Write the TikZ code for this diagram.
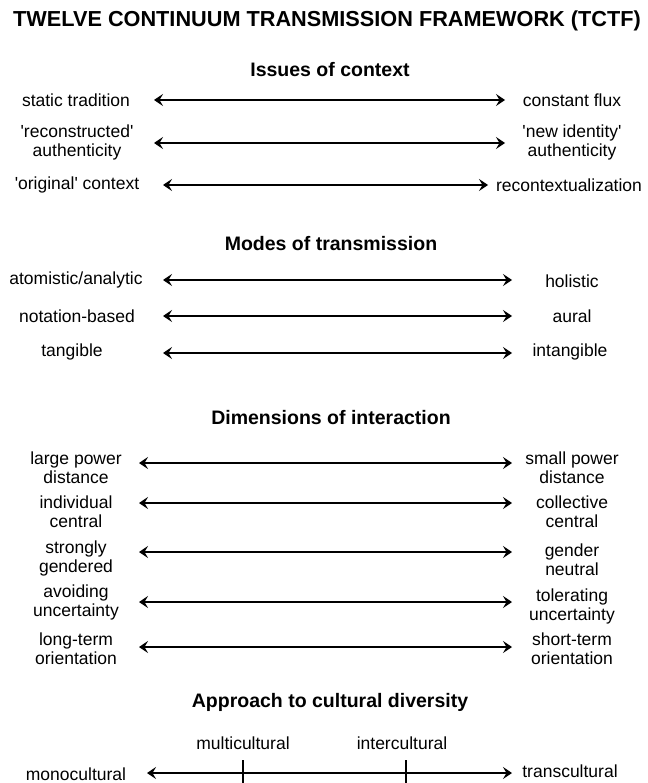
\documentclass[tikz,border=0pt]{standalone}
\usepackage{fontspec}
\setmainfont{Liberation Sans}[Ligatures=TeXOff]
\usetikzlibrary{arrows.meta}
\tikzset{
  body/.style={inner sep=0pt, align=center, font=\fontsize{17.5}{19}\selectfont},
  head/.style={inner sep=0pt, font=\fontsize{19.5}{22}\selectfont\bfseries},
  titlestyle/.style={inner sep=0pt, font=\fontsize{21.7}{24}\selectfont\bfseries},
  arr/.style={line width=1.5pt, {Stealth[length=9pt,width=12pt,inset=3.5pt]}-{Stealth[length=9pt,width=12pt,inset=3.5pt]}},
  tick/.style={line width=1.2pt}
}
\begin{document}
\begin{tikzpicture}[x=1pt,y=-1pt]
\useasboundingbox (0,0) rectangle (647,783);
\node[titlestyle] (title) at (327,21) {TWELVE CONTINUUM TRANSMISSION FRAMEWORK (TCTF)};
% Issues of context
\node[head] (h1) at (330,70) {Issues of context};
\node[body] (l11) at (76,100) {static tradition};
\node[body] (r11) at (572,100) {constant flux};
\coordinate (a11s) at (154,100); \coordinate (a11e) at (505,100);
\draw[arr] (a11s) -- (a11e);
\node[body] (l12) at (77,142) {'reconstructed'\\authenticity};
\node[body] (r12) at (572,142) {'new identity'\\authenticity};
\coordinate (a12s) at (154,143); \coordinate (a12e) at (505,143);
\draw[arr] (a12s) -- (a12e);
\node[body] (l13) at (77,185) {'original' context};
\node[body] (r13) at (569,185) {recontextualization};
\coordinate (a13s) at (163,185); \coordinate (a13e) at (488,185);
\draw[arr] (a13s) -- (a13e);
% Modes of transmission
\node[head] (h2) at (331,244) {Modes of transmission};
\node[body] (l21) at (76,280) {atomistic/analytic};
\node[body] (r21) at (572,281) {holistic};
\coordinate (a21s) at (163,280); \coordinate (a21e) at (512,280);
\draw[arr] (a21s) -- (a21e);
\node[body] (l22) at (77,316) {notation-based};
\node[body] (r22) at (572,316) {aural};
\coordinate (a22s) at (163,316); \coordinate (a22e) at (512,316);
\draw[arr] (a22s) -- (a22e);
\node[body] (l23) at (72,352) {tangible};
\node[body] (r23) at (570,352) {intangible};
\coordinate (a23s) at (163,353); \coordinate (a23e) at (512,353);
\draw[arr] (a23s) -- (a23e);
% Dimensions of interaction
\node[head] (h3) at (331,418) {Dimensions of interaction};
\node[body] (l31) at (76,468) {large power\\distance};
\node[body] (r31) at (572,468) {small power\\distance};
\coordinate (a31s) at (139,463); \coordinate (a31e) at (512,463);
\draw[arr] (a31s) -- (a31e);
\node[body] (l32) at (76,512) {individual\\central};
\node[body] (r32) at (572,512) {collective\\central};
\coordinate (a32s) at (139,503); \coordinate (a32e) at (512,503);
\draw[arr] (a32s) -- (a32e);
\node[body] (l33) at (76,558) {strongly\\gendered};
\node[body] (r33) at (572,560) {gender\\neutral};
\coordinate (a33s) at (139,552); \coordinate (a33e) at (512,552);
\draw[arr] (a33s) -- (a33e);
\node[body] (l34) at (76,602) {avoiding\\uncertainty};
\node[body] (r34) at (572,606) {tolerating\\uncertainty};
\coordinate (a34s) at (139,602); \coordinate (a34e) at (512,602);
\draw[arr] (a34s) -- (a34e);
\node[body] (l35) at (76,649) {long-term\\orientation};
\node[body] (r35) at (572,649) {short-term\\orientation};
\coordinate (a35s) at (139,647); \coordinate (a35e) at (512,647);
\draw[arr] (a35s) -- (a35e);
% Approach to cultural diversity
\node[head] (h4) at (330,702) {Approach to cultural diversity};
\node[body] (multi) at (243,743) {multicultural};
\node[body] (inter) at (402,743) {intercultural};
\node[body] (mono) at (76,774) {monocultural};
\node[body] (trans) at (570,771) {transcultural};
\coordinate (a41s) at (147,773); \coordinate (a41e) at (512,773);
\draw[arr] (a41s) -- (a41e);
\coordinate (t1a) at (243,760); \coordinate (t1b) at (243,783);
\coordinate (t2a) at (406,760); \coordinate (t2b) at (406,783);
\draw[tick] (t1a) -- (t1b);
\draw[tick] (t2a) -- (t2b);
\end{tikzpicture}
\end{document}
